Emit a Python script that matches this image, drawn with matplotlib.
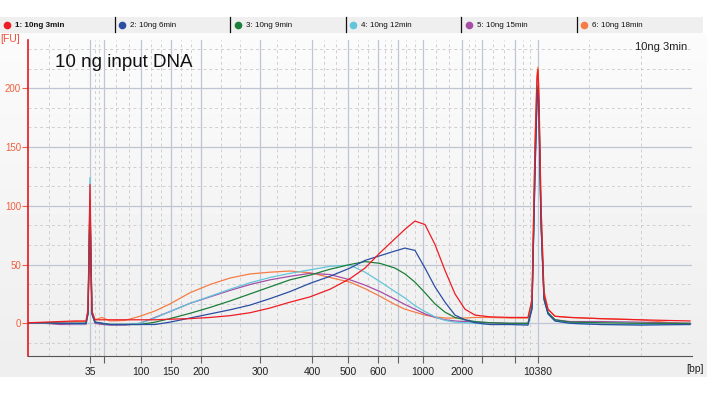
import numpy as np
import matplotlib.pyplot as plt
from matplotlib.lines import Line2D

# migration position (electropherogram run axis) and fluorescence [FU] per sample
pos = [28, 45, 60, 75, 86, 88, 89, 90, 91, 92, 95, 102, 110, 125, 140,
       155, 170, 190, 210, 230, 250, 270, 290, 310, 330, 350, 365, 380, 395, 405,
       415, 425, 435, 445, 455, 465, 475, 490, 510, 528, 532, 535, 537, 538, 539,
       541, 544, 548, 555, 570, 600, 640, 690]

fu_3min = [0.5, 1.0, 1.5, 2.0, 2.0, 12, 65, 118, 55, 10, 3, 3, 3, 3, 3,
           3, 3.5, 4, 5, 6.5, 9, 13, 18, 22.5, 29, 38, 47, 60, 72, 80,
           87, 84, 67, 45, 25, 12, 7, 5.5, 5, 5, 20, 150, 208, 216, 190,
           100, 25, 12, 6, 5, 4, 3, 2]
fu_6min = [0.5, 0.5, 0, 0, 0, 8, 50, 100, 45, 8, 1, 0, -1, -1, -1,
           -1, 1, 4.5, 8, 11.5, 15.5, 21, 27, 34, 40, 47, 53.5, 57.5, 61.5, 64,
           62, 47, 31, 18, 7, 3, 0.5, -1, -1, -1.5, 12, 125, 190, 198, 175,
           85, 20, 8, 2, 0, -1, -1.5, -1]
fu_9min = [0.5, 0.5, 0, 0, 0, 9, 52, 105, 48, 8, 1, 0, -1, -1, -1,
           1, 4, 8.5, 13.5, 19, 25, 31, 37, 41, 46, 50, 52.5, 51, 47, 42,
           35, 26, 16.5, 9.5, 5, 3, 1.5, 0.5, 0, 0, 14, 135, 195, 202, 180,
           88, 22, 9, 3, 1, 0.5, 0, 0]
fu_12min = [0.5, 0.5, 0, -0.5, -0.5, 10, 60, 124, 55, 10, 1, 0, -1, -1, 0,
            4.5, 10, 17, 23, 29, 34.5, 39, 42.5, 45.5, 48.5, 49.5, 43.5, 35.5, 27, 21.5,
            15, 10, 5.5, 2.5, 1, 0.5, 0, -1, -1, -1, 14, 135, 198, 205, 182,
            88, 22, 8, 2, 0, -1, -1, -1]
fu_15min = [0, 0, -1, -1, -1, 8, 55, 110, 50, 8, 0, -1, -1.5, -1.5, 0,
            5, 10, 17, 22.5, 28, 33, 37, 40, 42.5, 41.5, 37, 32.5, 27, 20.5, 16,
            12, 8, 5, 3, 2, 1.5, 1, 0.5, 0, 0, 13, 130, 195, 200, 178,
            86, 21, 9, 3, 1.5, 1.5, 1, 0]
fu_18min = [0.5, 0.5, 1, 1.5, 1.5, 10, 58, 112, 52, 10, 3, 5, 2, 2.5, 6,
            10.5, 16.5, 26, 33, 38.5, 42, 43.5, 44.5, 43, 39, 35, 29.5, 23, 16, 12,
            9.5, 7, 5.5, 4.5, 4.5, 4.5, 5, 5, 4.5, 4.5, 20, 155, 212, 218, 195,
            100, 28, 12, 6, 5, 4, 3, -1]

names = ['1: 10ng 3min', '2: 10ng 6min', '3: 10ng 9min',
         '4: 10ng 12min', '5: 10ng 15min', '6: 10ng 18min']
series = [fu_3min, fu_6min, fu_9min, fu_12min, fu_15min, fu_18min]
colors = ['#ee1c24', '#2b4ea2', '#1b7f3a', '#63c5db', '#a54ea5', '#f47d45']

# ladder bands (HS DNA) and their run positions
ladder_pos = [90, 104, 141, 171, 201, 260, 312, 348, 378, 398, 423, 462, 482, 515, 538]
ladder_lbl = ['35', '', '100', '150', '200', '300', '400', '500', '600', '',
              '1000', '2000', '', '', '10380']

fig = plt.figure(figsize=(7.07, 3.97), dpi=100)

# background (pixel coordinates)
bg = fig.add_axes([0, 0, 1, 1])
bg.set_xlim(0, 707)
bg.set_ylim(397, 0)
bg.axis('off')
grad = np.linspace(0.985, 0.935, 100).reshape(-1, 1)
bg.imshow(grad, cmap='gray', vmin=0, vmax=1, extent=[0, 707, 356, 33], aspect='auto')
bg.add_patch(plt.Rectangle((0, 356), 707, 21, color='#efefef', lw=0))
bg.add_patch(plt.Rectangle((0, 17), 703, 16, color='#efefef', lw=0))
for i, (n, c) in enumerate(zip(names, colors)):
    x0 = 7 + i * 115.4
    bg.plot(x0, 25, 'o', ms=4.5, color=c, mec=c)
    bg.text(x0 + 8, 25.5, n, fontsize=5.8, va='center', ha='left', color='#111111',
            family='Liberation Sans', fontweight='bold' if i == 0 else 'normal')
    if i > 0:
        bg.plot([x0 - 7.5, x0 - 7.5], [17, 32], color='#111111', lw=0.9)
bg.text(10, 39, '[FU]', fontsize=7.5, color='#f0503a', ha='center', va='center',
        family='Liberation Sans')
bg.text(695, 368.5, '[bp]', fontsize=7.5, color='#222222', ha='center', va='center',
        family='Liberation Sans')

ax = fig.add_axes([28 / 707, 41 / 397, 664 / 707, 316 / 397])
ax.patch.set_alpha(0)
for s, c in list(zip(series, colors))[::-1]:
    ax.plot(pos, s, color=c, lw=0.9)

ax.set_xlim(28, 692)
ax.set_ylim(-27.8, 241)

edges = [28] + ladder_pos + [692]
minor_x = []
for a, b in zip(edges[:-1], edges[1:]):
    minor_x += [a + (b - a) / 3, a + 2 * (b - a) / 3]
ax.set_xticks(ladder_pos, labels=ladder_lbl)
ax.set_xticks(minor_x, minor=True)
ax.set_yticks([0, 50, 100, 150, 200])
ax.set_yticks([k * 50 / 3 for k in range(-1, 15) if k % 3 != 0], minor=True)

ax.grid(which='major', color='#bfc5d2', lw=0.9)
ax.grid(which='minor', color='#cfcfcf', lw=0.7, ls=(0, (3, 3)))
ax.set_axisbelow(True)

ax.tick_params(axis='x', which='major', length=5, color='#606060', labelsize=7.5,
               labelcolor='#222222', pad=3)
ax.tick_params(axis='y', which='major', length=4, color='#f0603f', labelsize=7,
               labelcolor='#f0603f', pad=1)
ax.tick_params(which='minor', length=0)
for lab in ax.get_xticklabels() + ax.get_yticklabels():
    lab.set_family('Liberation Sans')

for sp in ['top', 'right']:
    ax.spines[sp].set_visible(False)
ax.spines['left'].set_color('#e8161c')
ax.spines['left'].set_linewidth(1.2)
ax.spines['bottom'].set_color('#555555')

ax.text(55, 218, '10 ng input DNA', fontsize=13.5, family='Liberation Sans',
        color='#111111', ha='left', va='baseline')
ax.text(687, 235, '10ng 3min', fontsize=8, family='Liberation Sans',
        color='#222222', ha='right', va='center')

fig.savefig('out.png', dpi=100)
